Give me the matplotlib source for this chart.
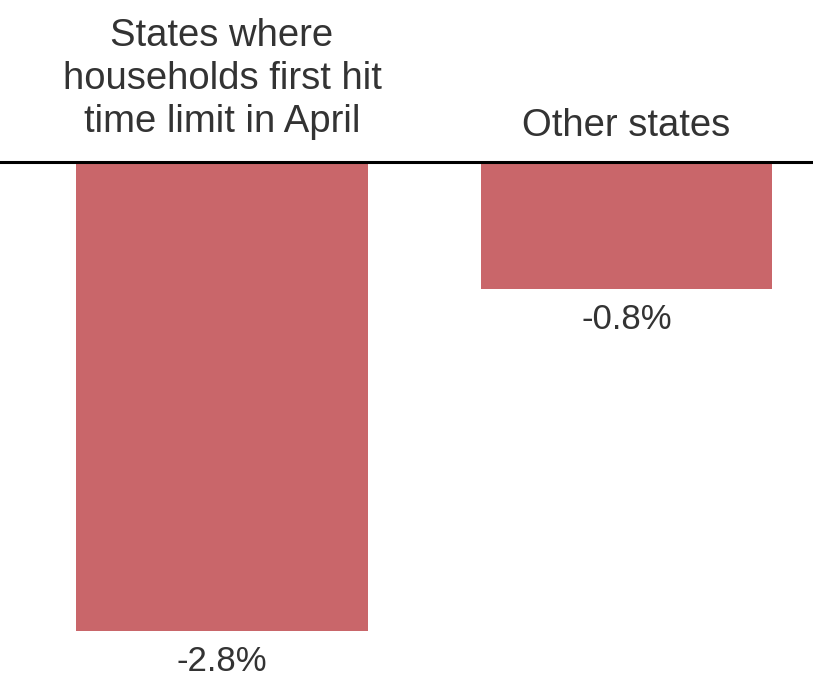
import matplotlib.pyplot as plt

categories = ["States where\nhouseholds first hit\ntime limit in April", "Other states"]
values = [-2.8, -0.76]
value_labels = ["-2.8%", "-0.8%"]

bar_color = "#c9666a"
text_color = "#333333"
font = ["Liberation Sans Narrow", "Liberation Sans", "DejaVu Sans"]

fig = plt.figure(figsize=(8.13, 6.81), dpi=100)
ax = fig.add_axes([0, 0, 1, 1])

x = [0, 1]
ax.bar(x, values, width=0.72, color=bar_color, zorder=1)
ax.axhline(0, color="black", linewidth=2.2, zorder=3)

# category labels above the zero line
offsets = [16, 13]
for xi, cat, off in zip(x, categories, offsets):
    ax.annotate(cat, xy=(xi, 0), xytext=(0, off), textcoords="offset points",
                ha="center", va="bottom", fontsize=27.5, color=text_color,
                family=font, linespacing=1.24)

# value labels below each bar
for xi, v, lab in zip(x, values, value_labels):
    ax.annotate(lab, xy=(xi, v), xytext=(0, -10), textcoords="offset points",
                ha="center", va="top", fontsize=25, color=text_color,
                family=font)

ax.set_xlim(-0.549, 1.461)
ax.set_ylim(-3.098, 0.967)
ax.axis("off")

fig.savefig("out.png", dpi=100)
